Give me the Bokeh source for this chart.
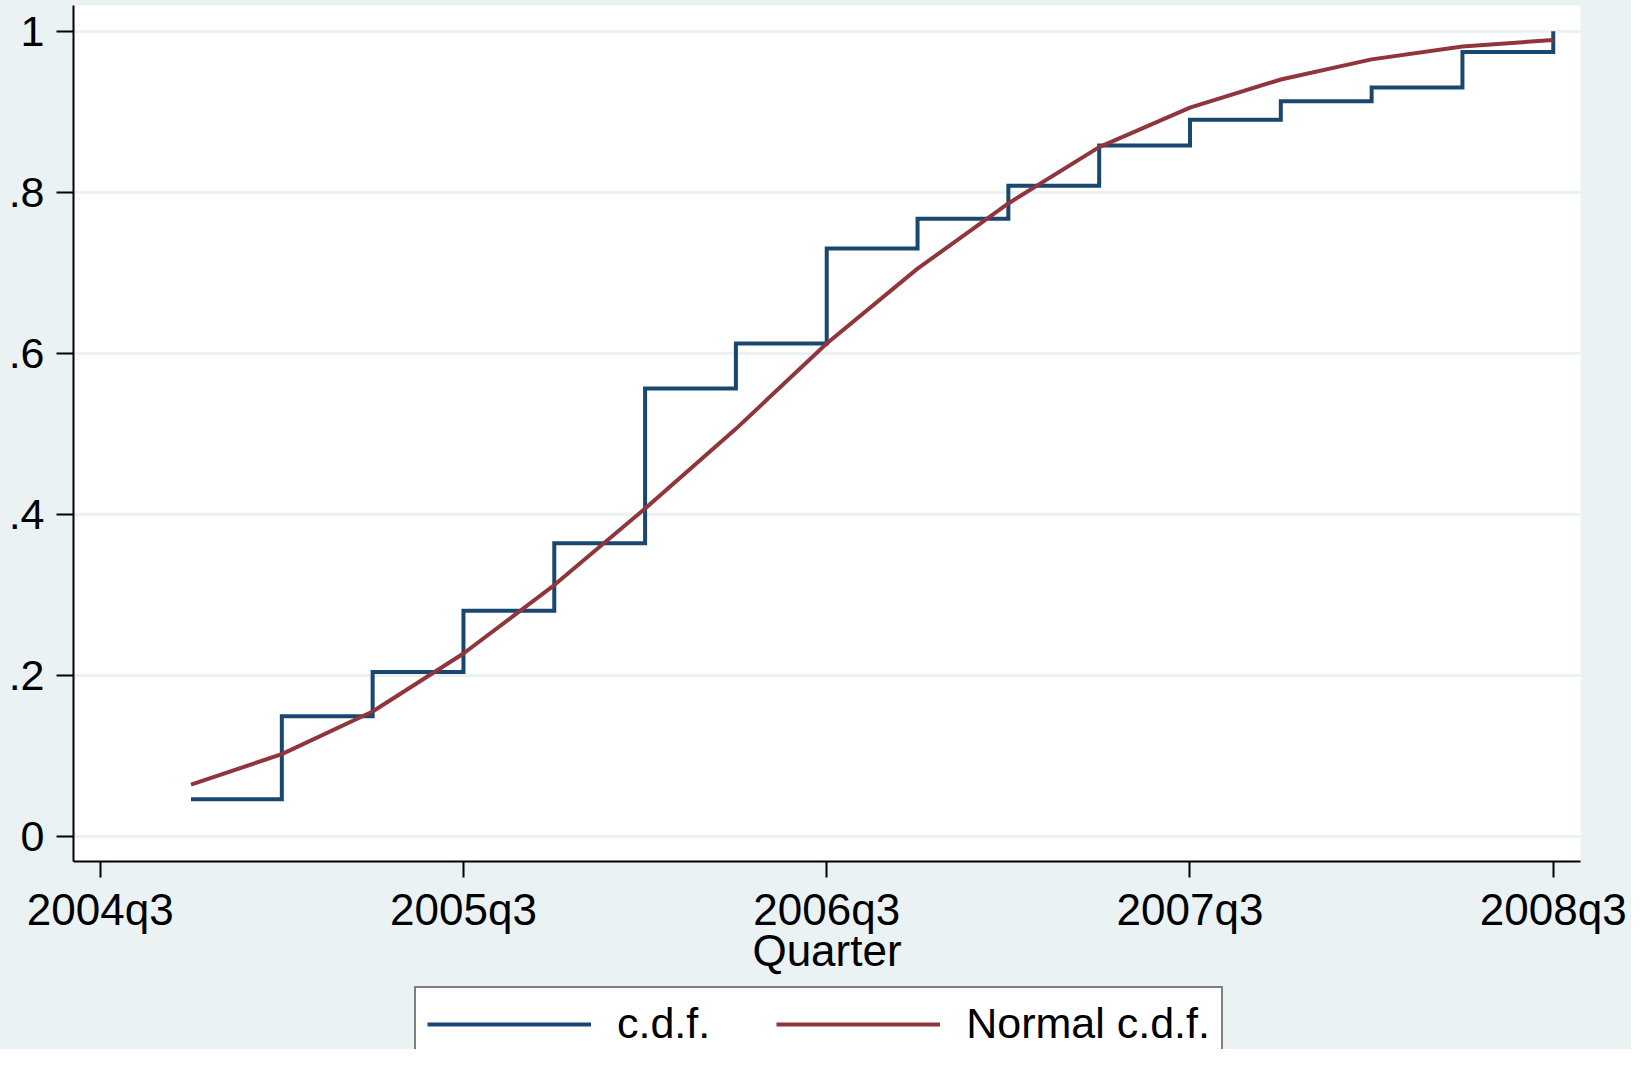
from bokeh.plotting import figure
from bokeh.layouts import column
from bokeh.models import Range1d, FixedTicker, Legend, LegendItem, ColumnDataSource
from bokeh.embed import file_html
from bokeh.resources import INLINE

# ---------------- data ----------------
quarters = ["2004q4", "2005q1", "2005q2", "2005q3", "2005q4", "2006q1", "2006q2", "2006q3",
            "2006q4", "2007q1", "2007q2", "2007q3", "2007q4", "2008q1", "2008q2", "2008q3"]
cdf = [0.046, 0.149, 0.204, 0.280, 0.364, 0.556, 0.612, 0.730,
       0.767, 0.808, 0.858, 0.890, 0.913, 0.930, 0.974, 1.000]
normal_cdf = [0.064, 0.102, 0.155, 0.227, 0.312, 0.407, 0.506, 0.612,
              0.705, 0.786, 0.856, 0.905, 0.940, 0.965, 0.981, 0.989]
x_tick_labels = ["2004q3", "2005q3", "2006q3", "2007q3", "2008q3"]
y_ticks = [0, 0.2, 0.4, 0.6, 0.8, 1]
y_tick_labels = ["0", ".2", ".4", ".6", ".8", "1"]
series_labels = ["c.d.f.", "Normal c.d.f."]
x_title = "Quarter"


def qindex(s):
    yr, q = s.split("q")
    return (int(yr) - 2004) * 4 + int(q) - 3


x = [qindex(s) for s in quarters]
x_ticks = [qindex(s) for s in x_tick_labels]

src = ColumnDataSource(dict(x=x, cdf=cdf, ncdf=normal_cdf))

BG = "#EAF2F3"
NAVY = "#1A476F"
MAROON = "#90353B"
FONT = "Liberation Sans"
W = 1631
H_MAIN = 984
H_LEG = 65

p = figure(width=W, height=H_MAIN, output_backend="svg", toolbar_location=None,
           x_range=Range1d(-0.294, 16.30), y_range=Range1d(-0.0314, 1.0319),
           min_border_left=73, min_border_right=51, min_border_top=5,
           min_border_bottom=H_MAIN - 861)

p.background_fill_color = "white"
p.border_fill_color = BG
p.outline_line_color = None

# grid
p.xgrid.grid_line_color = None
p.ygrid.grid_line_color = BG
p.ygrid.grid_line_width = 3
p.ygrid.ticker = FixedTicker(ticks=y_ticks)

# y axis
p.yaxis.ticker = FixedTicker(ticks=y_ticks)
p.yaxis.major_label_overrides = {t: l for t, l in zip(y_ticks, y_tick_labels)}
p.yaxis.major_label_orientation = "horizontal"
p.yaxis.minor_tick_line_color = None
p.yaxis.major_tick_in = 0
p.yaxis.major_tick_out = 17
p.yaxis.major_tick_line_width = 2
p.yaxis.axis_line_width = 2
p.yaxis.axis_line_color = "black"
p.yaxis.major_label_standoff = 12
p.yaxis.major_label_text_font = FONT
p.yaxis.major_label_text_font_size = "43px"
p.yaxis.major_label_text_color = "black"

# x axis
p.xaxis.ticker = FixedTicker(ticks=x_ticks)
p.xaxis.major_label_overrides = {t: l for t, l in zip(x_ticks, x_tick_labels)}
p.xaxis.minor_tick_line_color = None
p.xaxis.major_tick_in = 0
p.xaxis.major_tick_out = 16
p.xaxis.major_tick_line_width = 2
p.xaxis.axis_line_width = 2
p.xaxis.axis_line_color = "black"
p.xaxis.major_label_standoff = 7
p.xaxis.major_label_text_font = FONT
p.xaxis.major_label_text_font_size = "44px"
p.xaxis.major_label_text_color = "black"
p.xaxis.axis_label = x_title
p.xaxis.axis_label_text_font = FONT
p.xaxis.axis_label_text_font_size = "44px"
p.xaxis.axis_label_text_font_style = "normal"
p.xaxis.axis_label_text_color = "black"
p.xaxis.axis_label_standoff = -11

# series
p.step("x", "cdf", source=src, mode="after", line_color=NAVY, line_width=4,
       line_join="miter")
p.line("x", "ncdf", source=src, line_color=MAROON, line_width=4)

# ---------------- legend strip (separate figure below) ----------------
pl = figure(width=W, height=H_LEG, output_backend="svg", toolbar_location=None,
            x_range=Range1d(0, 1), y_range=Range1d(0, 1),
            x_axis_location=None, y_axis_location=None,
            min_border_left=0, min_border_right=0, min_border_top=0, min_border_bottom=0)
pl.background_fill_color = None
pl.border_fill_color = BG
pl.outline_line_color = None
pl.grid.visible = False

nan = float("nan")
l1 = pl.line([nan], [nan], line_color=NAVY, line_width=4)
l2 = pl.line([nan], [nan], line_color=MAROON, line_width=4)

legend = Legend(items=[LegendItem(label=series_labels[0], renderers=[l1]),
                       LegendItem(label=series_labels[1], renderers=[l2])],
                orientation="horizontal", location=(341, -12))
legend.label_text_font = FONT
legend.label_text_font_size = "43px"
legend.label_text_color = "black"
legend.glyph_width = 164
legend.glyph_height = 30
legend.label_standoff = 26
legend.spacing = 66
legend.padding = 11
legend.margin = 0
legend.border_line_color = "black"
legend.border_line_width = 2
legend.background_fill_color = "white"
legend.background_fill_alpha = 1
pl.add_layout(legend, "center")

layout = column(p, pl, spacing=0, styles={"background-color": BG})

open("out.html", "w").write(file_html(layout, INLINE))
